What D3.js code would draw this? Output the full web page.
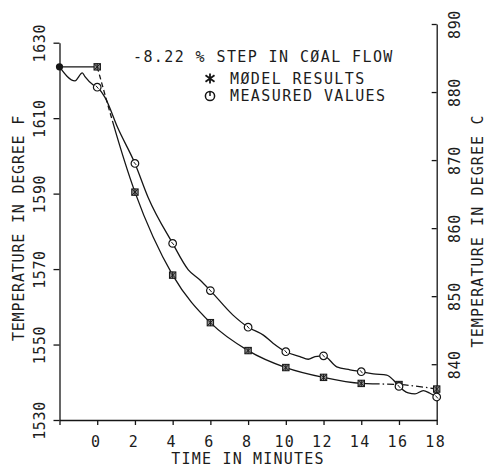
<!DOCTYPE html>
<html>
<head>
<meta charset="utf-8">
<script src="https://cdn.jsdelivr.net/npm/d3@7"></script>
<style>
  body { margin: 0; background: #fff; }
  text { font-family: "DejaVu Sans Mono", monospace; fill: #1c1c1c; }
</style>
</head>
<body>
<div id="chart"></div>
<script>
// sample times (minutes) and temperatures in degree F
var times = [-2, 0, 2, 4, 6, 8, 10, 12, 14, 16, 18];
var modelF = [1623.6, 1623.6, 1590.4, 1568.4, 1555.8, 1548.4, 1543.9, 1541.3, 1539.7, 1539.4, 1538.2];
var measuredF = [1623.6, 1618.2, 1598.0, 1576.8, 1564.3, 1554.6, 1548.1, 1547.0, 1542.8, 1538.9, 1536.1];

// continuous recorder trace of the measured values
var traceT = [-2, -1.18, -0.79, -0.65, -0.21, 0, 0.41, 1.1, 2, 2.7, 4, 4.83, 5.45, 6, 7.2, 8,
  8.81, 9.34, 10, 10.75, 11.19, 11.55, 12, 12.7, 13.4, 14, 14.64, 15.35, 15.7, 16,
  16.49, 16.85, 17.29, 17.64, 18];
var traceF = [1623.6, 1619.9, 1622.0, 1621.0, 1618.8, 1618.2, 1615.5, 1607.3, 1598.0, 1589.0, 1576.8, 1569.8, 1567.1, 1564.3, 1557.8, 1554.6,
  1552.5, 1550.3, 1548.1, 1546.8, 1546.1, 1546.8, 1547.0, 1544.1, 1543.3, 1542.8, 1542.2, 1541.9, 1540.6, 1538.9,
  1537.2, 1536.9, 1537.8, 1537.1, 1536.1];

var timeTicks = [-2, 0, 2, 4, 6, 8, 10, 12, 14, 16, 18];
var tempFTicks = [1530, 1550, 1570, 1590, 1610, 1630];
var tempCTicks = [840, 850, 860, 870, 880, 890];

var titleText = "-8.22 % STEP IN CØAL FLOW";
var legendLabels = ["MØDEL RESULTS", "MEASURED VALUES"];
var xTitle = "TIME IN MINUTES";
var yTitleF = "TEMPERATURE IN DEGREE F";
var yTitleC = "TEMPERATURE IN DEGREE C";

var W = 488, H = 468;
var ink = "#151515";

var svg = d3.select("#chart").append("svg")
  .attr("width", W)
  .attr("height", H);

// scales
var x = d3.scaleLinear().domain([-2, 18]).range([59.5, 436.7]);
var yF = d3.scaleLinear().domain([1530, 1630]).range([420, 42.7]);
var yC = d3.scaleLinear().domain([831.8, 890]).range([420, 24]);

// axes
var xAxis = svg.append("g")
  .attr("transform", "translate(0,420)")
  .call(d3.axisBottom(x).tickValues(timeTicks).tickSize(5).tickSizeOuter(0)
    .tickFormat(function(d) { return d < 0 ? "" : d; }));
xAxis.selectAll("text")
  .attr("y", 27).attr("dy", 0)
  .attr("x", -1.5)
  .style("font-size", "15px")
  .style("letter-spacing", "1.4px");

var yAxisF = svg.append("g")
  .attr("transform", "translate(59.5,0)")
  .call(d3.axisLeft(yF).tickValues(tempFTicks).tickSize(6).tickSizeOuter(0)
    .tickFormat(d3.format("d")));
yAxisF.selectAll("text")
  .attr("text-anchor", "middle")
  .attr("transform", "rotate(-90)")
  .attr("x", 0).attr("y", -15).attr("dy", 0)
  .style("font-size", "15px")
  .style("letter-spacing", "0.6px");

var yAxisC = svg.append("g")
  .attr("transform", "translate(436.7,0)")
  .call(d3.axisLeft(yC).tickValues(tempCTicks).tickSize(5).tickSizeOuter(0)
    .tickFormat(d3.format("d")));
yAxisC.selectAll("text")
  .attr("text-anchor", "middle")
  .attr("transform", "rotate(-90)")
  .attr("x", 0).attr("y", 23.3).attr("dy", 0)
  .style("font-size", "15px")
  .style("letter-spacing", "0.6px");

svg.selectAll(".domain, .tick line")
  .attr("stroke", ink)
  .attr("stroke-width", 1.3);

// axis titles
svg.append("text")
  .attr("x", 248).attr("y", 464)
  .attr("text-anchor", "middle")
  .style("font-size", "15px")
  .style("letter-spacing", "1.2px")
  .text(xTitle);

svg.append("text")
  .attr("transform", "translate(24,228) rotate(-90)")
  .attr("text-anchor", "middle")
  .style("font-size", "15px")
  .style("letter-spacing", "0.8px")
  .text(yTitleF);

svg.append("text")
  .attr("transform", "translate(483,231) rotate(-90)")
  .attr("text-anchor", "middle")
  .style("font-size", "15px")
  .style("letter-spacing", "1.1px")
  .text(yTitleC);

// lines
var model = times.map(function(t, i) { return [t, modelF[i]]; });
var measured = times.map(function(t, i) { return [t, measuredF[i]]; });
var trace = traceT.map(function(t, i) { return [t, traceF[i]]; });

var lineLin = d3.line().x(function(d) { return x(d[0]); }).y(function(d) { return yF(d[1]); });
var lineCurve = d3.line().curve(d3.curveMonotoneX)
  .x(function(d) { return x(d[0]); }).y(function(d) { return yF(d[1]); });

svg.append("path")
  .attr("d", lineCurve(trace))
  .attr("fill", "none").attr("stroke", ink).attr("stroke-width", 1.3);

// model: flat before the step, then the simulated response
svg.append("path")
  .attr("d", lineLin(model.slice(0, 2)))
  .attr("fill", "none").attr("stroke", ink).attr("stroke-width", 1.3);

var modelPath = svg.append("path")
  .attr("d", lineCurve(model.slice(1)))
  .attr("fill", "none").attr("stroke", ink).attr("stroke-width", 1.3);

// dashed at the start, dash-dot at the tail
var node = modelPath.node(), total = node.getTotalLength();
function lenAtX(px) {
  var lo = 0, hi = total;
  for (var k = 0; k < 30; k++) {
    var mid = (lo + hi) / 2;
    if (node.getPointAtLength(mid).x < px) lo = mid; else hi = mid;
  }
  return lo;
}
var l1 = lenAtX(x(0.7)), l2 = lenAtX(x(14.6));
var dash = [], p = 0;
while (p < l1) { dash.push(5, 3); p += 8; }
dash.push(Math.max(l2 - p, 0), 0); p = l2;
while (p < total) { dash.push(7, 3, 1.5, 3); p += 14.5; }
modelPath.attr("stroke-dasharray", dash.join(","));

// markers
var modelMarks = svg.append("g").selectAll("g")
  .data(model.slice(1))
  .join("g")
  .attr("transform", function(d) { return "translate(" + x(d[0]) + "," + yF(d[1]) + ")"; });
modelMarks.append("rect")
  .attr("x", -3.2).attr("y", -3.2).attr("width", 6.4).attr("height", 6.4)
  .attr("fill", "#8c8c8c").attr("stroke", ink).attr("stroke-width", 1);
modelMarks.append("path")
  .attr("d", "M-3,-3L3,3M-3,3L3,-3M0,-3.4V3.4")
  .attr("stroke", ink).attr("stroke-width", 0.9);

var measMarks = svg.append("g").selectAll("g")
  .data(measured.slice(1))
  .join("g")
  .attr("transform", function(d) { return "translate(" + x(d[0]) + "," + yF(d[1]) + ")"; });
measMarks.append("circle")
  .attr("r", 3.8)
  .attr("fill", "#fff").attr("stroke", ink).attr("stroke-width", 1.2);
measMarks.append("path")
  .attr("d", "M-1.3,-1.5L1.3,1.5")
  .attr("stroke", ink).attr("stroke-width", 1);

// common starting point
svg.append("circle")
  .attr("cx", x(times[0])).attr("cy", yF(modelF[0]))
  .attr("r", 3.6).attr("fill", ink);

// title and legend
svg.append("text")
  .attr("x", 133).attr("y", 62)
  .style("font-size", "15px")
  .style("letter-spacing", "1.4px")
  .text(titleText);

var legend = svg.append("g");
legend.selectAll("text")
  .data(legendLabels)
  .join("text")
  .attr("x", 230)
  .attr("y", function(d, i) { return 83.5 + i * 17; })
  .style("font-size", "15px")
  .style("letter-spacing", "1.4px")
  .text(function(d) { return d; });

legend.append("path")
  .attr("transform", "translate(210,78.5)")
  .attr("d", "M0,-5V5M-4.5,-3.2L4.5,3.2M-4.5,3.2L4.5,-3.2")
  .attr("stroke", ink).attr("stroke-width", 1.8);

legend.append("circle")
  .attr("cx", 210).attr("cy", 96)
  .attr("r", 4.6)
  .attr("fill", "none").attr("stroke", ink).attr("stroke-width", 1.5);
legend.append("path")
  .attr("d", "M210,91.4V96")
  .attr("stroke", ink).attr("stroke-width", 1.5);
</script>
</body>
</html>
